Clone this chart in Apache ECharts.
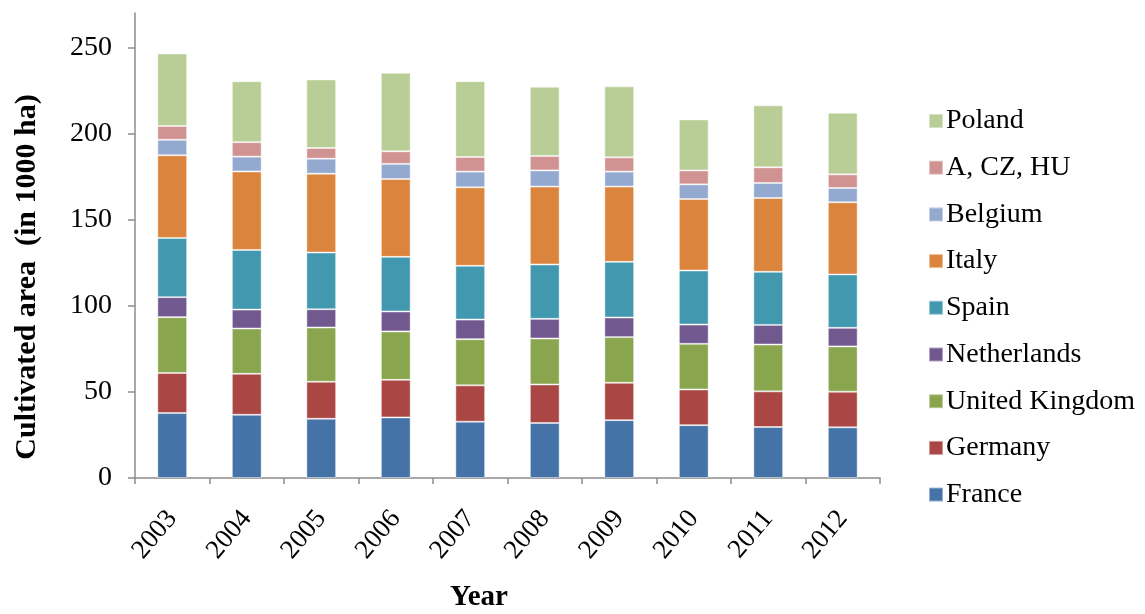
<!DOCTYPE html>
<html>
<head>
<meta charset="utf-8">
<script src="https://cdn.jsdelivr.net/npm/echarts@6/dist/echarts.min.js"></script>
<style>
    html, body { margin: 0; padding: 0; background: #fff; }
    #chart { width: 1145px; height: 614px; }
</style>
</head>
<body>
<div id="chart"></div>
<script>
// data (1000 ha per country)
var years = ['2003', '2004', '2005', '2006', '2007', '2008', '2009', '2010', '2011', '2012']
var yTicks = [0, 50, 100, 150, 200, 250]

var france = [37.7, 36.7, 34.4, 35.2, 32.7, 31.9, 33.6, 30.7, 29.6, 29.4]
var germany = [23.3, 23.8, 21.5, 21.8, 21.1, 22.4, 21.7, 20.7, 20.7, 20.7]
var unitedKingdom = [32.4, 26.3, 31.5, 28.1, 26.8, 26.7, 26.5, 26.5, 27.2, 26.3]
var netherlands = [11.6, 11.0, 10.6, 11.6, 11.4, 11.4, 11.4, 11.2, 11.4, 10.8]
var spain = [34.4, 34.6, 32.9, 31.7, 31.2, 31.6, 32.3, 31.4, 30.8, 31.0]
var italy = [48.0, 45.6, 45.8, 45.2, 45.6, 45.2, 43.7, 41.5, 42.9, 41.9]
var belgium = [9.0, 8.6, 8.7, 8.8, 9.1, 9.4, 8.7, 8.5, 8.7, 8.3]
var aCzHu = [8.0, 8.4, 6.2, 7.3, 8.5, 8.4, 8.3, 8.1, 9.1, 7.9]
var poland = [42.1, 35.4, 39.8, 45.6, 44.0, 40.2, 41.2, 29.6, 36.0, 35.8]

var seriesList = [
    { name: 'France', color: '#4572A7', data: france },
    { name: 'Germany', color: '#AA4643', data: germany },
    { name: 'United Kingdom', color: '#89A54E', data: unitedKingdom },
    { name: 'Netherlands', color: '#71588F', data: netherlands },
    { name: 'Spain', color: '#4198AF', data: spain },
    { name: 'Italy', color: '#DB843D', data: italy },
    { name: 'Belgium', color: '#93A9CF', data: belgium },
    { name: 'A, CZ, HU', color: '#D19392', data: aCzHu },
    { name: 'Poland', color: '#B9CD96', data: poland },
]

var serif = '"Liberation Serif", "DejaVu Serif", serif'
var axisColor = '#8c8c8c'

var myChart = echarts.init(document.getElementById('chart'))

var option = {
    animation: false,
    textStyle: { fontFamily: serif },
    legend: {
        orient: 'vertical',
        left: 923,
        top: 102,
        itemWidth: 14,
        itemHeight: 14,
        itemGap: 18.7,
        icon: 'rect',
        // Poland on top, France at the bottom
        data: seriesList.map(function(s) { return s.name }).reverse(),
        textStyle: {
            fontFamily: serif,
            fontSize: 28,
            color: '#000',
            lineHeight: 28,
            padding: [0, 0, 0, -2],
        },
    },
    grid: {
        left: 135,
        right: 265,
        top: 13,
        bottom: 136,
        containLabel: false,
    },
    xAxis: {
        type: 'category',
        data: years,
        axisLine: { lineStyle: { color: axisColor, width: 1.5 } },
        axisTick: {
            show: true,
            alignWithLabel: false,
            length: 6,
            lineStyle: { color: axisColor, width: 1.5 },
        },
        axisLabel: {
            rotate: 50,
            margin: 36,
            fontFamily: serif,
            fontSize: 27,
            color: '#000',
        },
    },
    yAxis: {
        type: 'value',
        min: 0,
        max: 270,
        interval: 50,
        axisLine: { show: true, lineStyle: { color: axisColor, width: 1.5 } },
        axisTick: {
            show: true,
            length: 7,
            customValues: yTicks,
            lineStyle: { color: axisColor, width: 1.5 },
        },
        axisLabel: {
            margin: 23,
            customValues: yTicks,
            fontFamily: serif,
            fontSize: 28,
            color: '#000',
        },
        splitLine: { show: false },
    },
    graphic: [
        {
            type: 'text',
            x: 27,
            y: 277,
            rotation: Math.PI / 2,
            style: {
                text: 'Cultivated area  (in 1000 ha)',
                fontFamily: serif,
                fontWeight: 'bold',
                fontSize: 30,
                fill: '#000',
                align: 'center',
                verticalAlign: 'middle',
            },
        },
        {
            type: 'text',
            x: 479,
            y: 598,
            style: {
                text: 'Year',
                fontFamily: serif,
                fontWeight: 'bold',
                fontSize: 29,
                fill: '#000',
                align: 'center',
                verticalAlign: 'middle',
            },
        },
    ],
    series: seriesList.map(function(s) {
        return {
            name: s.name,
            type: 'bar',
            stack: 'total',
            barWidth: '40%',
            itemStyle: {
                color: s.color,
                borderColor: 'rgba(255,255,255,0.45)',
                borderWidth: 1,
            },
            data: s.data,
        }
    }),
}

myChart.setOption(option)
</script>
</body>
</html>
